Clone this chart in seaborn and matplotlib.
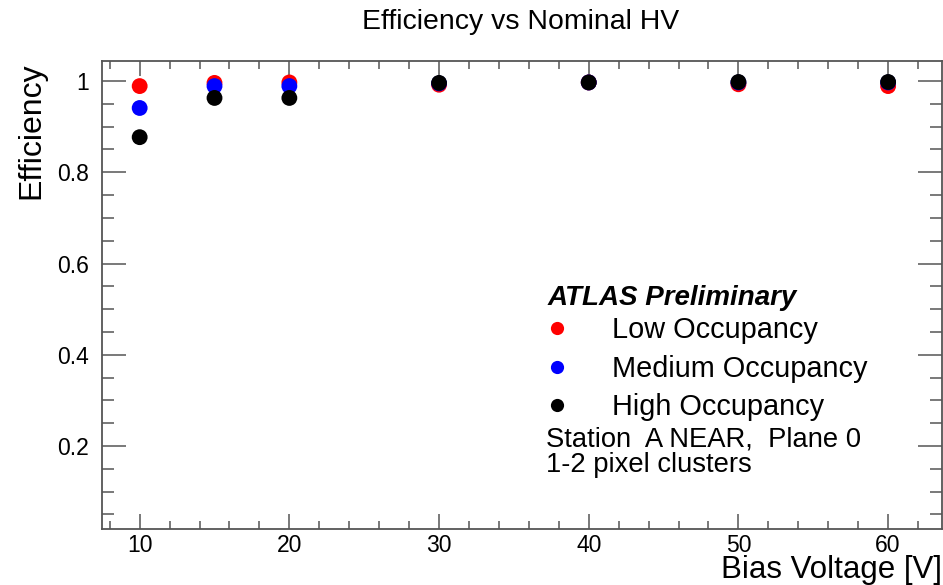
import numpy as np
import pandas as pd
import matplotlib
matplotlib.use("Agg")
import matplotlib.pyplot as plt
import seaborn as sns
from matplotlib.lines import Line2D
from matplotlib.ticker import MultipleLocator, FuncFormatter

# ---- data ----
bias_voltage = [10, 15, 20, 30, 40, 50, 60]
eff_low = [0.989, 0.996, 0.997, 0.992, 0.997, 0.993, 0.989]
eff_medium = [0.941, 0.989, 0.989, 0.995, 0.997, 0.997, 0.997]
eff_high = [0.877, 0.963, 0.963, 0.996, 0.997, 0.998, 0.998]
series_names = ["Low Occupancy", "Medium Occupancy", "High Occupancy"]
series_colors = ["#ff0000", "#0000ff", "#000000"]

title = "Efficiency vs Nominal HV"
xlabel = "Bias Voltage [V]"
ylabel = "Efficiency"
atlas_label = "ATLAS Preliminary"
info_lines = ["Station  A NEAR,  Plane 0", "1-2 pixel clusters"]

df = pd.DataFrame({
    "V": bias_voltage * 3,
    "eff": eff_low + eff_medium + eff_high,
    "series": sum([[n] * len(bias_voltage) for n in series_names], []),
})

sns.set_style("ticks")
plt.rcParams["font.family"] = ["Liberation Sans", "DejaVu Sans"]
plt.rcParams["text.color"] = "black"
plt.rcParams["axes.labelcolor"] = "black"
plt.rcParams["xtick.labelcolor"] = "black"
plt.rcParams["ytick.labelcolor"] = "black"

W, H = 943, 585
fig = plt.figure(figsize=(W / 100, H / 100), dpi=100)
ax = fig.add_axes([101.5 / W, 1 - 529 / H, (942 - 101.5) / W, (529 - 61) / H])

sns.scatterplot(data=df, x="V", y="eff", hue="series", hue_order=series_names,
                palette=series_colors, s=130, linewidth=0, legend=False, ax=ax,
                zorder=3)

ax.set_xlim(7.45, 63.6)
ax.set_ylim(0.018, 1.044)

ax.xaxis.set_major_locator(MultipleLocator(10))
ax.xaxis.set_minor_locator(MultipleLocator(2))
ax.yaxis.set_major_locator(MultipleLocator(0.2))
ax.yaxis.set_minor_locator(MultipleLocator(0.05))
ax.yaxis.set_major_formatter(FuncFormatter(lambda v, p: f"{v:g}"))

spine_col = "#555555"
for sp in ax.spines.values():
    sp.set_color(spine_col)
    sp.set_linewidth(1.3)

ax.tick_params(axis="both", which="both", direction="in", top=True, right=True,
               color=spine_col, width=1.1, labelsize=16.5, labelcolor="black")
ax.tick_params(axis="x", which="major", length=10.5, pad=3.5)
ax.tick_params(axis="x", which="minor", length=5.5)
ax.tick_params(axis="y", which="major", length=17, pad=9)
ax.tick_params(axis="y", which="minor", length=8.5)

ax.set_xlabel(xlabel, fontsize=22.5, loc="right", color="black")
ax.xaxis.set_label_coords(942 / W, 1 - 578 / H, transform=fig.transFigure)
ax.xaxis.label.set_va("baseline")
ax.set_ylabel(ylabel, fontsize=23, loc="top", color="black")
ax.yaxis.set_label_coords(46 / W, 1 - 62 / H, transform=fig.transFigure)

fig.text(521 / W, 1 - 22 / H, title, fontsize=20.4, ha="center", va="center",
         color="black")

handles = [Line2D([], [], marker="o", linestyle="", color=c, markersize=9.5,
                  markeredgewidth=0) for c in series_colors]
leg = ax.legend(handles, series_names, loc="upper left",
                bbox_to_anchor=(543 / W, 1 - 316 / H), bbox_transform=fig.transFigure,
                frameon=False, fontsize=20.8, handlelength=1.0, handletextpad=1.4,
                labelspacing=0.37, borderpad=0, borderaxespad=0)
for t in leg.get_texts():
    t.set_color("black")

fig.text(548 / W, 1 - 298 / H, atlas_label, fontsize=20, fontweight="bold",
         fontstyle="italic", ha="left", va="center", color="black")
fig.text(546 / W, 1 - 439 / H, info_lines[0], fontsize=19.7, ha="left", va="center",
         color="black")
fig.text(546 / W, 1 - 465 / H, info_lines[1], fontsize=19.7, ha="left", va="center",
         color="black")

fig.savefig("out.png", dpi=100)
